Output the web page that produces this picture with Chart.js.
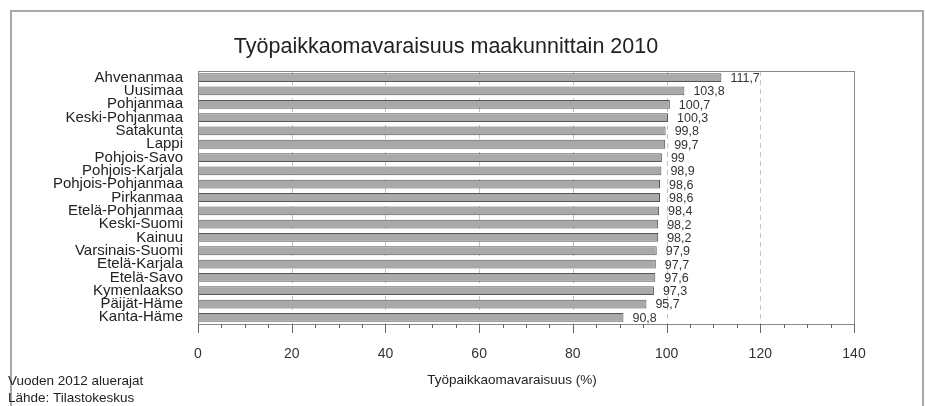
<!DOCTYPE html>
<html>
<head>
<meta charset="utf-8">
<script src="https://cdn.jsdelivr.net/npm/chart.js@4"></script>
<style>
  html, body { margin: 0; padding: 0; background: #fff; }
  #wrap { position: relative; width: 925px; height: 406px; }
</style>
</head>
<body>
<div id="wrap"><canvas id="c" width="925" height="406"></canvas></div>
<script>
// data
var regions = ["Ahvenanmaa", "Uusimaa", "Pohjanmaa", "Keski-Pohjanmaa", "Satakunta", "Lappi",
  "Pohjois-Savo", "Pohjois-Karjala", "Pohjois-Pohjanmaa", "Pirkanmaa", "Etelä-Pohjanmaa",
  "Keski-Suomi", "Kainuu", "Varsinais-Suomi", "Etelä-Karjala", "Etelä-Savo", "Kymenlaakso",
  "Päijät-Häme", "Kanta-Häme"];
var values = [111.7, 103.8, 100.7, 100.3, 99.8, 99.7, 99, 98.9, 98.6, 98.6, 98.4,
  98.2, 98.2, 97.9, 97.7, 97.6, 97.3, 95.7, 90.8];
var xTicks = [0, 20, 40, 60, 80, 100, 120, 140];

var FONT = "'Liberation Sans', Arial, sans-serif";

function fmt(v) {
  return String(v).replace('.', ',');
}

var decor = {
  id: 'decor',
  beforeDatasetsDraw: function (chart) {
    var ctx = chart.ctx, a = chart.chartArea, x = chart.scales.x;
    ctx.save();
    // dashed grid lines
    ctx.strokeStyle = '#c4c4c4';
    ctx.lineWidth = 1;
    ctx.setLineDash([5, 4]);
    xTicks.forEach(function (t) {
      if (t === 0 || t === 140) return;
      var px = Math.round(x.getPixelForValue(t)) + 0.5;
      ctx.beginPath();
      ctx.moveTo(px, a.top);
      ctx.lineTo(px, a.bottom);
      ctx.stroke();
    });
    ctx.restore();
  },
  afterDatasetsDraw: function (chart) {
    var ctx = chart.ctx, a = chart.chartArea, x = chart.scales.x;
    ctx.save();
    // plot box
    ctx.strokeStyle = '#8a8a8a';
    ctx.lineWidth = 1;
    ctx.strokeRect(Math.round(a.left) + 0.5, Math.round(a.top) + 0.5,
      Math.round(a.right - a.left), Math.round(a.bottom - a.top));
    // ticks
    ctx.strokeStyle = '#666';
    for (var t = 0; t <= 140; t += 5) {
      var px = Math.round(x.getPixelForValue(t)) + 0.5;
      var len = (t % 20 === 0) ? 9 : 4;
      ctx.beginPath();
      ctx.moveTo(px, a.bottom);
      ctx.lineTo(px, a.bottom + len);
      ctx.stroke();
    }
    // value labels
    var meta = chart.getDatasetMeta(0);
    ctx.fillStyle = '#333';
    ctx.font = '12.5px ' + FONT;
    ctx.textBaseline = 'middle';
    ctx.textAlign = 'left';
    meta.data.forEach(function (bar, i) {
      ctx.fillText(fmt(values[i]), bar.x + 9, bar.y + 1);
    });
    // outer frame
    ctx.strokeStyle = '#a8a8a8';
    ctx.lineWidth = 2;
    ctx.beginPath();
    ctx.moveTo(11, 406);
    ctx.lineTo(11, 11);
    ctx.lineTo(923, 11);
    ctx.lineTo(923, 406);
    ctx.stroke();
    // titles and notes
    ctx.fillStyle = '#222';
    ctx.textAlign = 'center';
    ctx.font = '21.5px ' + FONT;
    ctx.fillText('Työpaikkaomavaraisuus maakunnittain 2010', 446, 47);
    ctx.font = '13.5px ' + FONT;
    ctx.fillText('Työpaikkaomavaraisuus (%)', 512, 380);
    ctx.textAlign = 'left';
    ctx.fillText('Vuoden 2012 aluerajat', 8, 381);
    ctx.fillText('Lähde: Tilastokeskus', 8, 398);
    ctx.restore();
  }
};

new Chart(document.getElementById('c'), {
  type: 'bar',
  data: {
    labels: regions,
    datasets: [{
      data: values,
      backgroundColor: '#a9a9a9',
      borderColor: '#555',
      borderWidth: 1,
      borderSkipped: false,
      categoryPercentage: 1,
      barPercentage: 0.66
    }]
  },
  options: {
    indexAxis: 'y',
    responsive: false,
    animation: false,
    layout: { padding: { top: 71, right: 71, left: 0, bottom: 0 } },
    plugins: { legend: { display: false }, tooltip: { enabled: false } },
    scales: {
      x: {
        min: 0, max: 140,
        afterFit: function (s) { s.height = 82; },
        afterBuildTicks: function (s) { s.ticks = xTicks.map(function (v) { return { value: v }; }); },
        grid: { display: false },
        border: { display: false },
        ticks: { padding: 14, color: '#333', font: { family: FONT, size: 14 } }
      },
      y: {
        afterFit: function (s) { s.width = 198; },
        grid: { display: false, drawTicks: false },
        border: { display: false },
        ticks: { padding: 15, color: '#222', autoSkip: false, font: { family: FONT, size: 15 } }
      }
    }
  },
  plugins: [decor]
});
</script>
</body>
</html>
